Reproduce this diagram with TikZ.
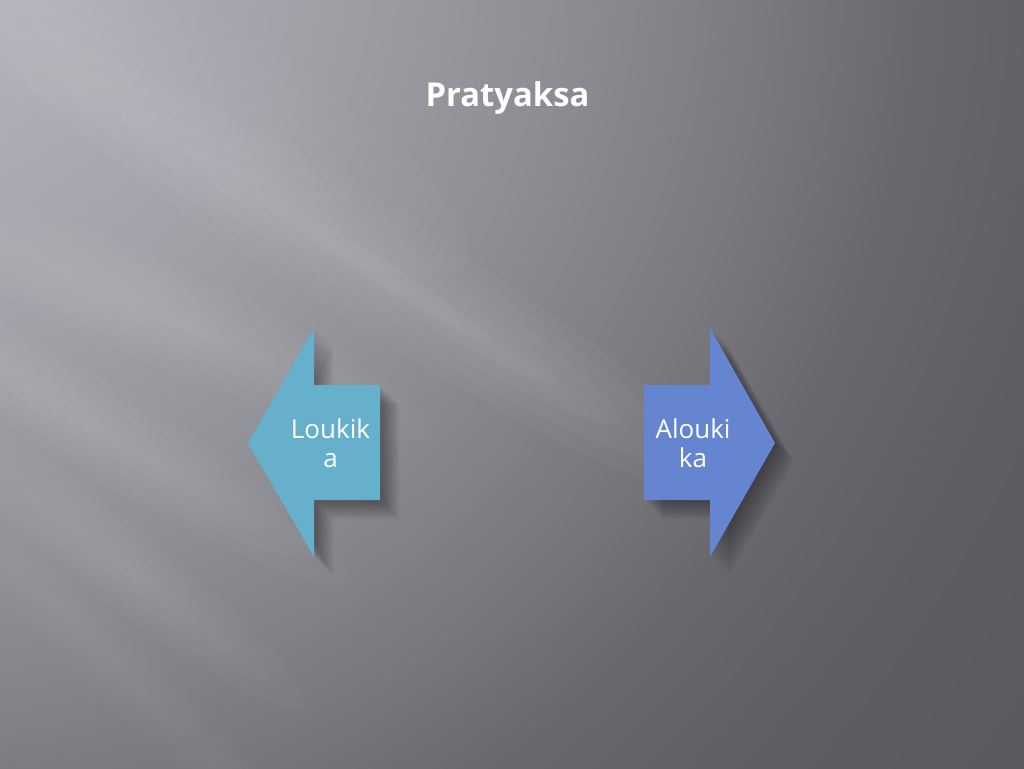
\documentclass[tikz,border=0pt]{standalone}
\usepackage{fontspec}
\setmainfont{Open Sans}
\definecolor{leftblue}{RGB}{102,176,203}
\definecolor{rightblue}{RGB}{101,133,208}
\definecolor{glow}{RGB}{250,250,255}
\pgfdeclareradialshading{bgrad}{\pgfpoint{0bp}{0bp}}{%
  color(0bp)=(rgb,255:red,180;green,180;blue,188);
  color(3bp)=(rgb,255:red,174;green,174;blue,182);
  color(7bp)=(rgb,255:red,160;green,160;blue,167);
  color(11bp)=(rgb,255:red,141;green,141;blue,148);
  color(14.5bp)=(rgb,255:red,121;green,121;blue,127);
  color(17bp)=(rgb,255:red,104;green,104;blue,110);
  color(20bp)=(rgb,255:red,93;green,93;blue,98);
  color(25bp)=(rgb,255:red,88;green,88;blue,93);
  color(50bp)=(rgb,255:red,88;green,88;blue,93)}
\newcommand\mystreak[6]{% cx cy angle halflength halfwidth opacity
  \begin{scope}[shift={(#1,#2)}, rotate=-#3]
    \pgfmathsetmacro\myop{#6/5}
    \foreach \i in {1,...,5}{
      \fill[glow, opacity=\myop] (0,0) ellipse [x radius={#4*(\i+1)/6}, y radius={#5*\i/5}];
    }
  \end{scope}}
\tikzset{
  leftarr/.pic={\path[pic actions] (248,443) -- (314,328) -- (314,385) -- (380,385) -- (380,500) -- (314,500) -- (314,557) -- cycle;},
  rightarr/.pic={\path[pic actions] (775,443) -- (710,328) -- (710,385) -- (644,385) -- (644,500) -- (710,500) -- (710,557) -- cycle;},
  shadowlayer/.style={fill=black, opacity=0.03, draw=none},
  arrowtext/.style={text=white, align=center, font=\fontsize{26}{29}\selectfont, inner sep=0pt},
  titletext/.style={text=white, font=\bfseries\fontsize{32.8}{38}\selectfont, inner sep=0pt}
}
\begin{document}
\begin{tikzpicture}[x=1pt,y=-1pt]
\useasboundingbox (0,0) rectangle (1024,768);
\begin{scope}
\clip (0,0) rectangle (1024,768);
\shade[shading=bgrad] (-100,-60) circle (1500);
% light streaks
\mystreak{120}{60}{30}{400}{90}{0.10}
\mystreak{370}{265}{32}{440}{60}{0.14}
\mystreak{420}{300}{33}{230}{16}{0.05}
\mystreak{130}{300}{24}{330}{50}{0.11}
\mystreak{100}{430}{31}{290}{45}{0.11}
\mystreak{90}{540}{38}{270}{40}{0.10}
\mystreak{100}{650}{44}{250}{34}{0.08}
\end{scope}
% shadows
\foreach \s in {1,2.5,...,20}{
  \pic[shadowlayer] at (\s,\s) {leftarr};
  \pic[shadowlayer] at (\s,\s) {rightarr};
}
% arrows
\pic[fill=leftblue] (larrow) at (0,0) {leftarr};
\pic[fill=rightblue] (rarrow) at (0,0) {rightarr};
\node[arrowtext] (loukika) at (330.5,443) {Loukik\\a};
\node[arrowtext] (aloukika) at (693,443) {Alouki\\ka};
\node[titletext, anchor=base] (title) at (507.5,106) {Pratyaksa};
\end{tikzpicture}
\end{document}
